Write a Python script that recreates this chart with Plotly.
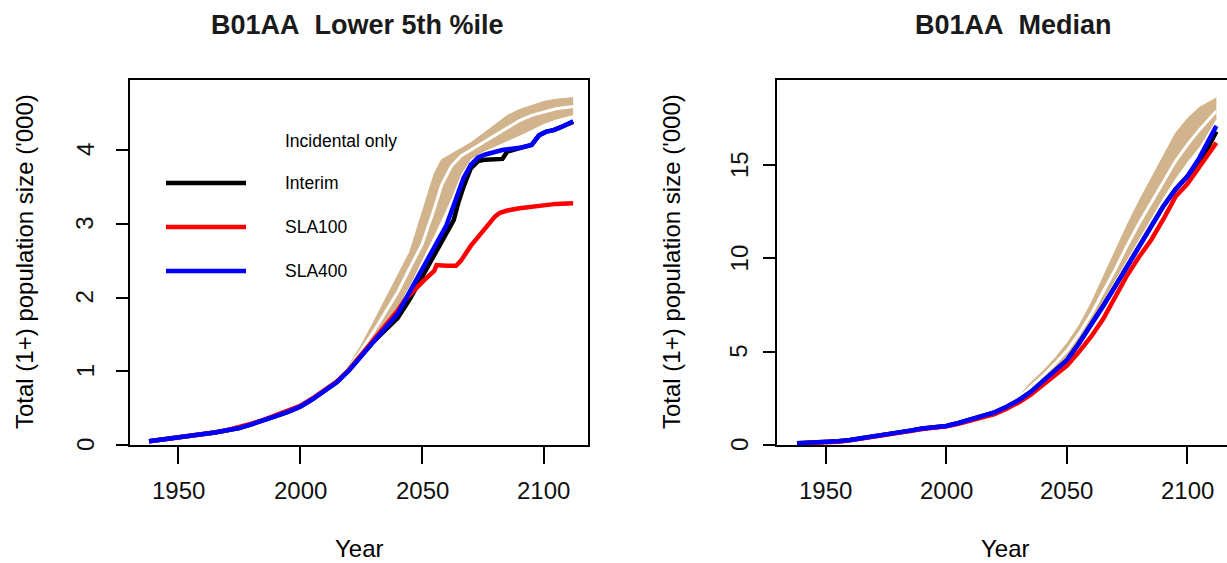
import plotly.graph_objects as go

# ---------------- data: left panel (Lower 5th %ile) ----------------
L_years = [1938, 1945, 1950, 1955, 1960, 1965, 1970, 1975, 1980, 1985, 1990, 1995,
           2000, 2005, 2010, 2015, 2020, 2025, 2030, 2035, 2040, 2045, 2050, 2055,
           2060, 2063, 2065, 2067, 2070, 2073, 2076, 2080, 2083, 2085, 2090, 2095,
           2098, 2101, 2104, 2107, 2110, 2112]
L_sla400 = [0.05, 0.08, 0.10, 0.12, 0.14, 0.17, 0.20, 0.23, 0.28, 0.33, 0.39, 0.45,
            0.52, 0.62, 0.73, 0.85, 1.01, 1.20, 1.40, 1.58, 1.78, 2.08, 2.38, 2.68,
            2.98, 3.25, 3.45, 3.62, 3.80, 3.90, 3.94, 3.98, 4.00, 4.01, 4.03, 4.07,
            4.20, 4.25, 4.27, 4.31, 4.36, 4.39]
L_interim = [0.05, 0.08, 0.10, 0.12, 0.14, 0.17, 0.20, 0.23, 0.28, 0.33, 0.39, 0.45,
             0.52, 0.62, 0.73, 0.85, 1.01, 1.20, 1.40, 1.56, 1.72, 1.98, 2.28, 2.55,
             2.85, 3.05, 3.30, 3.50, 3.75, 3.85, 3.87, 3.87, 3.88, 3.98, 4.03, 4.07,
             4.20, 4.25, 4.27, 4.31, 4.36, 4.38]
L_sla100_years = [1938, 1945, 1950, 1955, 1960, 1965, 1970, 1975, 1980, 1985, 1990, 1995,
                  2000, 2005, 2010, 2015, 2020, 2025, 2030, 2035, 2040, 2043, 2047, 2051,
                  2055, 2056, 2060, 2064, 2066, 2070, 2075, 2080, 2082, 2085, 2090, 2095,
                  2100, 2105, 2112]
L_sla100 = [0.05, 0.08, 0.10, 0.12, 0.14, 0.17, 0.20, 0.24, 0.29, 0.34, 0.40, 0.46,
            0.53, 0.63, 0.74, 0.86, 1.02, 1.21, 1.42, 1.62, 1.82, 1.97, 2.11, 2.24,
            2.36, 2.44, 2.43, 2.43, 2.50, 2.70, 2.90, 3.10, 3.15, 3.18, 3.21, 3.23,
            3.25, 3.27, 3.28]
L_band_years = [2018, 2020, 2025, 2030, 2035, 2040, 2045, 2050, 2055, 2058, 2062, 2066,
                2070, 2075, 2080, 2085, 2090, 2095, 2100, 2105, 2112]
L_inc_upper = [0.97, 1.08, 1.35, 1.66, 1.98, 2.28, 2.62, 3.15, 3.68, 3.87, 3.95, 4.02,
               4.10, 4.22, 4.35, 4.47, 4.55, 4.61, 4.66, 4.69, 4.71]
L_inc_lower = [0.96, 1.02, 1.20, 1.42, 1.64, 1.87, 2.17, 2.50, 2.85, 3.06, 3.35, 3.68,
               3.88, 3.98, 4.05, 4.12, 4.20, 4.28, 4.36, 4.42, 4.48]
L_inc_mid = [0.965, 1.05, 1.28, 1.53, 1.80, 2.07, 2.40, 2.72, 3.20, 3.52, 3.78, 3.92,
             4.00, 4.10, 4.20, 4.30, 4.40, 4.47, 4.52, 4.56, 4.59]

# ---------------- data: right panel (Median) ----------------
R_years = [1938, 1945, 1950, 1955, 1960, 1965, 1970, 1975, 1980, 1985, 1990, 1995,
           2000, 2005, 2010, 2015, 2020, 2025, 2030, 2035, 2040, 2045, 2050, 2055,
           2060, 2065, 2070, 2075, 2080, 2085, 2090, 2095, 2100, 2105, 2108, 2112]
R_sla400 = [0.10, 0.12, 0.15, 0.20, 0.27, 0.36, 0.45, 0.55, 0.66, 0.77, 0.88, 0.95,
            1.02, 1.18, 1.35, 1.55, 1.75, 2.05, 2.40, 2.85, 3.40, 3.95, 4.55, 5.45,
            6.40, 7.45, 8.50, 9.60, 10.60, 11.70, 12.80, 13.70, 14.40, 15.40, 16.10, 17.10]
R_interim = [0.10, 0.12, 0.15, 0.20, 0.27, 0.36, 0.45, 0.55, 0.66, 0.77, 0.88, 0.95,
             1.02, 1.18, 1.35, 1.55, 1.75, 2.05, 2.40, 2.85, 3.40, 3.95, 4.55, 5.45,
             6.40, 7.45, 8.50, 9.60, 10.60, 11.70, 12.80, 13.70, 14.40, 15.20, 15.80, 16.80]
R_sla100 = [0.08, 0.10, 0.13, 0.18, 0.25, 0.34, 0.43, 0.53, 0.64, 0.75, 0.86, 0.93,
            1.00, 1.14, 1.30, 1.48, 1.66, 1.95, 2.28, 2.70, 3.20, 3.70, 4.25, 5.00,
            5.80, 6.75, 7.90, 9.10, 10.10, 11.00, 12.10, 13.30, 14.00, 14.90, 15.40, 16.20]
R_band_years = [2022, 2025, 2030, 2035, 2040, 2045, 2050, 2055, 2060, 2065, 2070, 2075,
                2080, 2085, 2090, 2095, 2100, 2105, 2112]
R_inc_upper = [1.92, 2.15, 2.60, 3.35, 3.95, 4.65, 5.45, 6.40, 7.60, 9.00, 10.40, 11.80,
               13.10, 14.30, 15.50, 16.70, 17.50, 18.10, 18.60]
R_inc_lower = [1.90, 2.08, 2.45, 2.95, 3.50, 4.10, 4.75, 5.65, 6.65, 7.75, 8.85, 10.00,
               11.10, 12.20, 13.30, 14.30, 15.20, 16.00, 17.50]
R_inc_mid = [1.91, 2.11, 2.52, 3.10, 3.70, 4.35, 5.05, 5.95, 7.00, 8.20, 9.40, 10.70,
             11.90, 13.00, 14.10, 15.20, 16.10, 16.90, 17.90]

# ---------------- labels ----------------
titles = ["B01AA\u00a0 Lower 5th %ile", "B01AA\u00a0 Median"]
legend_labels = ["Incidental only", "Interim", "SLA100", "SLA400"]
x_ticks = [1950, 2000, 2050, 2100]
yL_ticks = [0, 1, 2, 3, 4]
yR_ticks = [0, 5, 10, 15]
y_title = "Total (1+) population size ('000)"
x_title = "Year"

# ---------------- styling / layout ----------------
W, H = 1227, 563
TAN = "#D2B48C"
COL = {"Interim": "black", "SLA100": "#FF0000", "SLA400": "#0000FF"}
FONT = "Liberation Sans, Arial, sans-serif"
LW = 4.5


def fx(p):
    return p / W


def fy(p):
    return 1 - p / H


fig = go.Figure()


def add_panel(xa, ya, byears, lower, upper, mid, yrs, interim, sla100_x, sla100, sla400):
    fig.add_trace(go.Scatter(x=byears, y=lower, mode="lines", line=dict(color=TAN, width=1),
                             xaxis=xa, yaxis=ya, showlegend=False, hoverinfo="skip"))
    fig.add_trace(go.Scatter(x=byears, y=upper, mode="lines", line=dict(color=TAN, width=1),
                             fill="tonexty", fillcolor=TAN,
                             xaxis=xa, yaxis=ya, showlegend=False, hoverinfo="skip"))
    fig.add_trace(go.Scatter(x=byears, y=mid, mode="lines", line=dict(color="white", width=3),
                             xaxis=xa, yaxis=ya, showlegend=False, name="Incidental only"))
    fig.add_trace(go.Scatter(x=yrs, y=interim, mode="lines", line=dict(color=COL["Interim"], width=LW),
                             xaxis=xa, yaxis=ya, showlegend=False, name="Interim"))
    fig.add_trace(go.Scatter(x=sla100_x, y=sla100, mode="lines", line=dict(color=COL["SLA100"], width=LW),
                             xaxis=xa, yaxis=ya, showlegend=False, name="SLA100"))
    fig.add_trace(go.Scatter(x=yrs, y=sla400, mode="lines", line=dict(color=COL["SLA400"], width=LW),
                             xaxis=xa, yaxis=ya, showlegend=False, name="SLA400"))


add_panel("x", "y", L_band_years, L_inc_lower, L_inc_upper, L_inc_mid,
          L_years, L_interim, L_sla100_years, L_sla100, L_sla400)
add_panel("x2", "y2", R_band_years, R_inc_lower, R_inc_upper, R_inc_mid,
          R_years, R_interim, R_years, R_sla100, R_sla400)

common_x = dict(tickvals=x_ticks, ticks="outside", ticklen=17, tickwidth=2, tickcolor="black",
                showline=True, linewidth=2, linecolor="black", mirror=True, showgrid=False,
                zeroline=False, showticklabels=False)
common_y = dict(ticks="outside", ticklen=12, tickwidth=2, tickcolor="black",
                showline=True, linewidth=2, linecolor="black", showgrid=False, zeroline=False,
                showticklabels=False)

top_dom = fy(80)
bot_dom = fy(445)

fig.update_layout(
    width=W, height=H, margin=dict(l=0, r=0, t=0, b=0),
    paper_bgcolor="white", plot_bgcolor="white", showlegend=False,
    xaxis=dict(domain=[fx(130), fx(588)], range=[1930.2, 2118.1], anchor="y", **common_x),
    yaxis=dict(domain=[bot_dom, top_dom], range=[0, 4.95], tickvals=yL_ticks, anchor="x",
               mirror=True, **common_y),
    xaxis2=dict(domain=[fx(777), 1.0], range=[1929.7, 2116.4], anchor="y2", **common_x),
    yaxis2=dict(domain=[bot_dom, top_dom], range=[0, 19.56], tickvals=yR_ticks, anchor="x2",
                mirror=False, **common_y),
)

ann = []
tfont = dict(family=FONT, size=24, color="#111111")

# tick labels (placed on the library's own axis scales)
for xr in ("x", "x2"):
    for t in x_ticks:
        ann.append(dict(text=str(t), x=t, xref=xr, y=fy(490), yref="paper", showarrow=False,
                        xanchor="center", yanchor="middle", font=tfont))
for yr, ticks, lx in (("y", yL_ticks, 85), ("y2", yR_ticks, 739)):
    for t in ticks:
        ann.append(dict(text=str(t), x=fx(lx), xref="paper", y=t, yref=yr, showarrow=False,
                        xanchor="center", yanchor="middle", textangle=-90, font=tfont))

# titles
for txt, cx in ((titles[0], 357), (titles[1], 1013)):
    ann.append(dict(text="<b>" + txt + "</b>", x=fx(cx), y=fy(25), xref="paper", yref="paper",
                    showarrow=False, xanchor="center", yanchor="middle",
                    font=dict(family=FONT, size=27, color="#1a1a1a")))

axis_ann = [
    dict(text=y_title, x=fx(24), y=fy(262), textangle=-90),
    dict(text=y_title, x=fx(671), y=fy(262), textangle=-90),
    dict(text=x_title, x=fx(359), y=fy(548)),
    dict(text=x_title, x=fx(1005), y=fy(548)),
]
for a in axis_ann:
    a.update(xref="paper", yref="paper", showarrow=False, xanchor="center", yanchor="middle",
             font=dict(family=FONT, size=24, color="black"))
ann.extend(axis_ann)

# legend (drawn inside left panel)
leg_y = [141, 183, 227, 271]
shapes = []
for lab, ly in zip(legend_labels, leg_y):
    ann.append(dict(text=lab, x=fx(283), y=fy(ly), xref="paper", yref="paper", showarrow=False,
                    xanchor="left", yanchor="middle",
                    font=dict(family=FONT, size=17.5, color="black")))
    if lab in COL:
        shapes.append(dict(type="line", xref="paper", yref="paper", x0=fx(166), x1=fx(246),
                           y0=fy(ly), y1=fy(ly), line=dict(color=COL[lab], width=LW)))

fig.update_layout(annotations=ann, shapes=shapes)

fig.write_html("out.html")
